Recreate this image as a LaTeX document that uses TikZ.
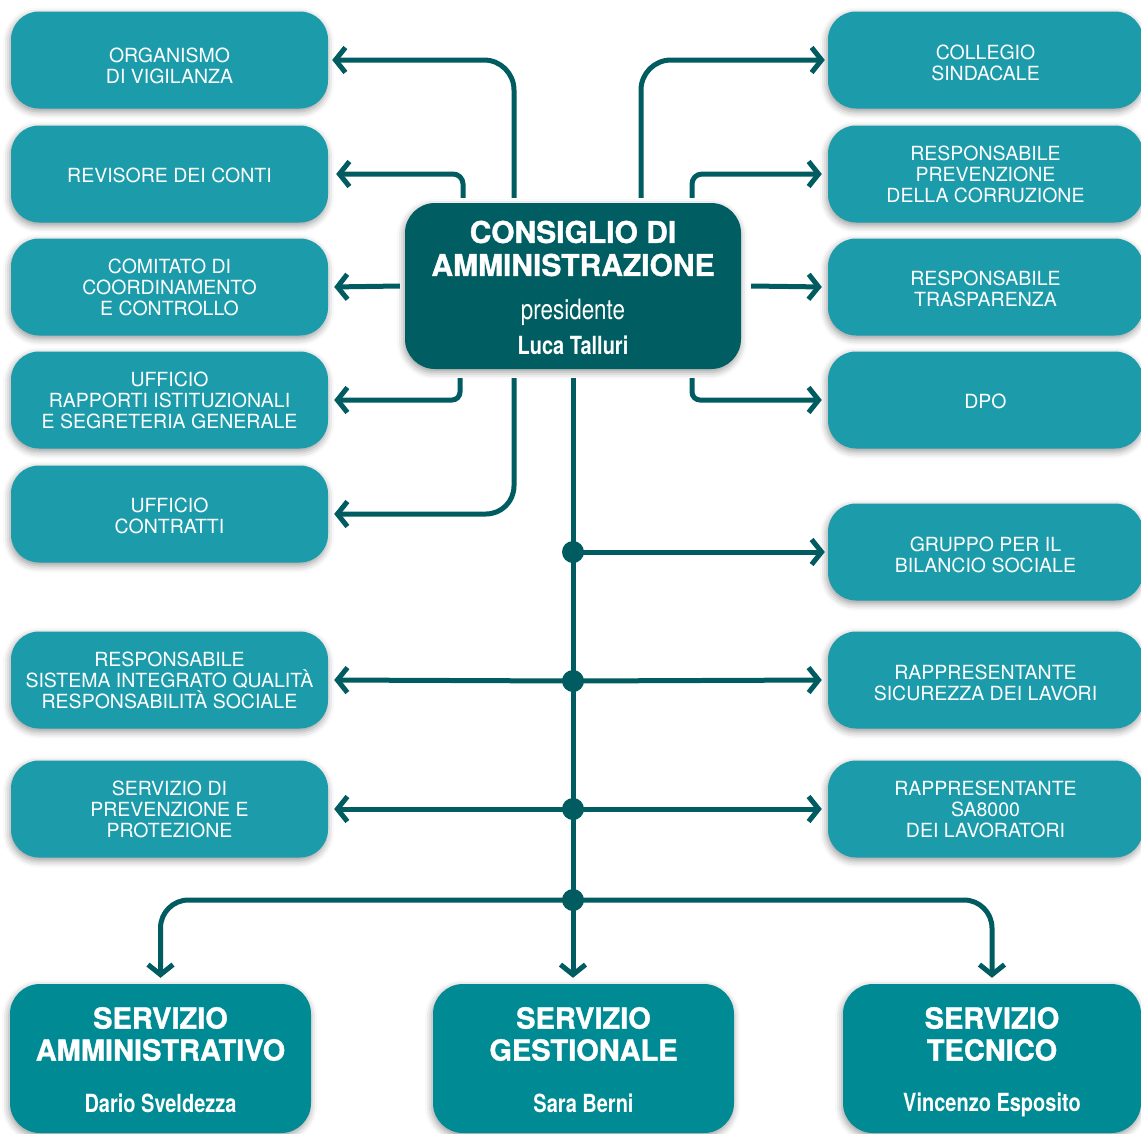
\documentclass[tikz,border=0pt]{standalone}
\usepackage{fontspec}
\setmainfont{TeX Gyre Heros}
\newfontfamily\cond[FakeStretch=0.8]{TeX Gyre Heros}
\newfontfamily\heavy[BoldFeatures={FakeBold=1.2}]{TeX Gyre Heros}
\usetikzlibrary{arrows.meta,shadows.blur}
\definecolor{lightbox}{RGB}{28,156,171}
\definecolor{darkbox}{RGB}{0,94,98}
\definecolor{midbox}{RGB}{0,138,147}
\definecolor{linec}{RGB}{0,92,96}
\newcommand{\dn}[1]{\rule{0pt}{#1}}
\tikzset{
  shad/.style={blur shadow={shadow xshift=-1pt,shadow yshift=-3pt,shadow blur radius=7pt,shadow opacity=40}},
  box/.style={shad,rounded corners=28pt,minimum width=317pt,minimum height=97pt,fill=lightbox,text=white,align=center,inner sep=0pt,font=\fontsize{19.5}{21}\selectfont},
  rbox/.style={box,minimum width=315pt},
  bigbox/.style={shad,rounded corners=30pt,minimum width=301pt,minimum height=149pt,fill=midbox,inner sep=0pt},
  btitle/.style={text=white,align=center,font=\heavy\fontsize{29}{32}\selectfont\bfseries},
  bname/.style={text=white,font=\cond\bfseries\fontsize{25}{27}\selectfont},
  conn/.style={draw=linec,line width=5pt,-{Straight Barb[length=10pt,width=25pt]},shorten >=3pt},
  dot/.style={fill=linec},
}
\begin{document}
\begin{tikzpicture}[x=1pt,y=-1pt]
\useasboundingbox (0,0) rectangle (1141,1133);
% left column
\node[box] (org) at (169.5,60) {\dn{26pt}ORGANISMO\\DI VIGILANZA};
\node[box] (rev) at (169.5,174) {\dn{18pt}REVISORE DEI CONTI};
\node[box] (com) at (169.5,287) {COMITATO DI\\COORDINAMENTO\\E CONTROLLO};
\node[box] (uff) at (169.5,400) {UFFICIO\\RAPPORTI ISTITUZIONALI\\E SEGRETERIA GENERALE};
\node[box] (con) at (169.5,514) {\dn{18pt}UFFICIO\\CONTRATTI};
\node[box] (rsq) at (169.5,680) {RESPONSABILE\\SISTEMA INTEGRATO QUALITÀ\\RESPONSABILITÀ SOCIALE};
\node[box] (spp) at (169.5,809) {SERVIZIO DI\\PREVENZIONE E\\PROTEZIONE};
% right column
\node[rbox] (col) at (985.5,60) {\dn{20pt}COLLEGIO\\SINDACALE};
\node[rbox] (rpc) at (985.5,174) {RESPONSABILE\\PREVENZIONE\\DELLA CORRUZIONE};
\node[rbox] (rtr) at (985.5,287) {\dn{18pt}RESPONSABILE\\TRASPARENZA};
\node[rbox] (dpo) at (985.5,400) {\dn{18pt}DPO};
\node[rbox] (gbs) at (985.5,552) {\dn{20pt}GRUPPO PER IL\\BILANCIO SOCIALE};
\node[rbox] (rsl) at (985.5,680) {\dn{20pt}RAPPRESENTANTE\\SICUREZZA DEI LAVORI};
\node[rbox] (rsa) at (985.5,809) {RAPPRESENTANTE\\SA8000\\DEI LAVORATORI};
% centre
\node[shad,rounded corners=30pt,minimum width=336pt,minimum height=166pt,fill=darkbox] (cda) at (573,286) {};
\node[text=white,align=center,font=\heavy\fontsize{30}{33}\selectfont\bfseries] (cdat) at (573,248.5) {CONSIGLIO DI\\AMMINISTRAZIONE};
\node[text=white,font=\cond\fontsize{28}{30}\selectfont] (cdap) at (573,312) {presidente};
\node[text=white,font=\cond\bfseries\fontsize{25}{27}\selectfont] (cdan) at (573,345) {Luca Talluri};
% bottom
\node[bigbox] (adm) at (160.5,1058.5) {};
\node[btitle] (admt) at (160.5,1034) {SERVIZIO\\AMMINISTRATIVO};
\node[bname] (admn) at (160.5,1103) {Dario Sveldezza};
\node[bigbox] (mid) at (583.5,1058.5) {};
\node[btitle] (midt) at (583.5,1034) {SERVIZIO\\GESTIONALE};
\node[bname] (midn) at (583.5,1103) {Sara Berni};
\node[bigbox,minimum width=298pt] (tec) at (992,1058.5) {};
\node[btitle] (tect) at (992,1034) {SERVIZIO\\TECNICO};
\node[bname] (tecn) at (992,1104.5) {Vincenzo Esposito};
% junctions
\coordinate (j1) at (573,552);
\coordinate (j2) at (573,681);
\coordinate (j3) at (573,809);
\coordinate (j4) at (573,900);
% connectors top
\draw[conn,rounded corners=30pt] ([xshift=-59pt,yshift=5pt]cda.north) |- ([xshift=1pt]org.east);
\draw[conn,rounded corners=10pt] ([xshift=-110pt,yshift=5pt]cda.north) |- ([xshift=5pt]rev.east);
\draw[conn] ([xshift=-5pt]cda.west) -- ([xshift=3pt]com.east);
\draw[conn,rounded corners=8pt] ([xshift=-113pt,yshift=-9pt]cda.south) |- ([xshift=3pt]uff.east);
\draw[conn,rounded corners=28pt] ([xshift=-59pt,yshift=-9pt]cda.south) |- ([xshift=3pt]con.east);
\draw[conn,rounded corners=30pt] ([xshift=68pt,yshift=5pt]cda.north) |- (col.west);
\draw[conn,rounded corners=10pt] ([xshift=119pt,yshift=5pt]cda.north) |- ([xshift=-3pt]rpc.west);
\draw[conn] ([xshift=10pt]cda.east) -- ([xshift=-3pt]rtr.west);
\draw[conn,rounded corners=8pt] ([xshift=119pt,yshift=-9pt]cda.south) |- ([xshift=-3pt]dpo.west);
% main spine
\draw[conn,shorten >=6pt] ([yshift=-9pt]cda.south) -- (cda.south |- mid.north);
\draw[conn] (j1) -- (gbs.west);
\draw[conn] (j2) -- ([xshift=-3pt]rsl.west);
\draw[conn] (j2) -- ([xshift=3pt]rsq.east);
\draw[conn] (j3) -- ([xshift=-3pt]rsa.west);
\draw[conn] (j3) -- ([xshift=3pt]spp.east);
\draw[conn,rounded corners=28pt,shorten >=6pt] (j4) -| (adm.north);
\draw[conn,rounded corners=28pt,shorten >=6pt] (j4) -| (tec.north);
\foreach \j in {j1,j2,j3,j4} \fill[dot] (\j) circle (11pt);
\end{tikzpicture}
\end{document}
